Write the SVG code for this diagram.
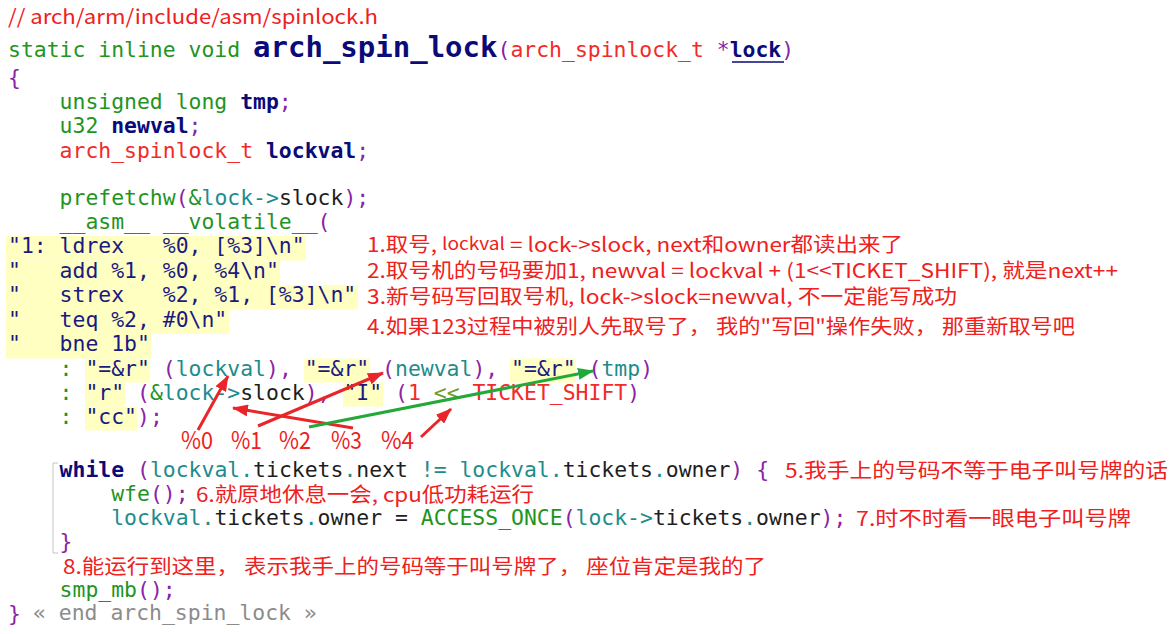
<svg xmlns="http://www.w3.org/2000/svg" width="1171" height="634" viewBox="0 0 1171 634">
<style>
.c{font-family:"DejaVu Sans Mono","Liberation Mono",monospace;font-size:21.43px;white-space:pre}
.g{fill:#1f9423}
.n{fill:#1a1a82}
.nb{fill:#0a0a78;font-weight:bold}
.p{fill:#8a23a6}
.t{fill:#1d8c8c}
.r{fill:#f22a2a}
.k{fill:#1e1e1e}
.o{fill:#6e9a2a}
.gr{fill:#8c8c8c}
.a{font-family:"Noto Sans CJK SC","Noto Sans",sans-serif;fill:#ef2020;font-size:20px;white-space:pre}
.lb{font-size:24px}
.hl{fill:#ffffc2}
.ar{stroke:#e8262a;stroke-width:3;fill:none}
.ag{stroke:#23a83a;stroke-width:3;fill:none}
</style>
<defs>
<marker id="mr" markerUnits="userSpaceOnUse" markerWidth="16" markerHeight="12" viewBox="0 0 16 12" refX="15" refY="6" orient="auto"><path d="M0,0 L16,6 L0,12 z" fill="#e8262a"/></marker>
<marker id="mg" markerUnits="userSpaceOnUse" markerWidth="16" markerHeight="12" viewBox="0 0 16 12" refX="15" refY="6" orient="auto"><path d="M0,0 L16,6 L0,12 z" fill="#23a83a"/></marker>
</defs>
<rect width="1171" height="634" fill="#ffffff"/>

<g id="highlights">
<rect class="hl" x="6" y="236" width="300" height="24.5"/>
<rect class="hl" x="6" y="260.5" width="274" height="24.5"/>
<rect class="hl" x="6" y="285" width="352" height="24.5"/>
<rect class="hl" x="6" y="309.5" width="223" height="24.5"/>
<rect class="hl" x="6" y="334" width="145" height="24.5"/>
<rect class="hl" x="85" y="358.5" width="65" height="24"/>
<rect class="hl" x="304" y="358.5" width="66" height="24"/>
<rect class="hl" x="510" y="358.5" width="66" height="24"/>
<rect class="hl" x="85" y="382.5" width="40" height="24"/>
<rect class="hl" x="343" y="382.5" width="40" height="24"/>
<rect class="hl" x="85" y="406.5" width="52" height="24"/>
</g>

<g id="code">
<text class="a" x="8" y="24" font-size="21" textLength="370" lengthAdjust="spacingAndGlyphs">// arch/arm/include/asm/spinlock.h</text>
<text class="c" x="8" y="57"><tspan class="g">static inline void </tspan><tspan class="nb" font-size="29">arch_spin_lock</tspan><tspan class="p">(</tspan><tspan class="r">arch_spinlock_t </tspan><tspan class="p">*</tspan><tspan class="nb">lock</tspan><tspan class="p">)</tspan></text>
<line x1="732" y1="62" x2="784" y2="62" stroke="#0a0a78" stroke-width="1.5"/>
<text class="c p" x="8" y="85">{</text>
<text class="c" x="59.6" y="109"><tspan class="g">unsigned long </tspan><tspan class="nb">tmp</tspan><tspan class="p">;</tspan></text>
<text class="c" x="59.6" y="133"><tspan class="g">u32 </tspan><tspan class="nb">newval</tspan><tspan class="p">;</tspan></text>
<text class="c" x="59.6" y="157.5"><tspan class="r">arch_spinlock_t </tspan><tspan class="nb">lockval</tspan><tspan class="p">;</tspan></text>
<text class="c" x="59.6" y="205"><tspan class="g">prefetchw</tspan><tspan class="p">(</tspan><tspan class="g">&amp;</tspan><tspan class="t">lock-&gt;</tspan><tspan class="k">slock</tspan><tspan class="p">);</tspan></text>
<text class="c" x="59.6" y="229"><tspan class="g">__asm__ __volatile__</tspan><tspan class="p">(</tspan></text>
<text class="c n" x="8" y="253">"1: ldrex   %0, [%3]\n"</text>
<text class="c n" x="8" y="277.5">"   add %1, %0, %4\n"</text>
<text class="c n" x="8" y="302">"   strex   %2, %1, [%3]\n"</text>
<text class="c n" x="8" y="326.5">"   teq %2, #0\n"</text>
<text class="c n" x="8" y="351">"   bne 1b"</text>
<text class="c" x="59.6" y="375.5"><tspan class="g">:</tspan> <tspan class="n">"=&amp;r"</tspan> <tspan class="p">(</tspan><tspan class="t">lockval</tspan><tspan class="p">),</tspan> <tspan class="n">"=&amp;r"</tspan> <tspan class="p">(</tspan><tspan class="t">newval</tspan><tspan class="p">),</tspan> <tspan class="n">"=&amp;r"</tspan> <tspan class="p">(</tspan><tspan class="t">tmp</tspan><tspan class="p">)</tspan></text>
<text class="c" x="59.6" y="400"><tspan class="g">:</tspan> <tspan class="n">"r"</tspan> <tspan class="p">(</tspan><tspan class="g">&amp;</tspan><tspan class="t">lock-&gt;</tspan><tspan class="k">slock</tspan><tspan class="p">),</tspan> <tspan class="n">"I"</tspan> <tspan class="p">(</tspan><tspan class="r">1 </tspan><tspan class="o">&lt;&lt;</tspan><tspan class="r"> TICKET_SHIFT</tspan><tspan class="p">)</tspan></text>
<text class="c" x="59.6" y="424"><tspan class="g">:</tspan> <tspan class="n">"cc"</tspan><tspan class="p">);</tspan></text>
<text class="c" x="59.6" y="477"><tspan class="nb">while</tspan> <tspan class="p">(</tspan><tspan class="t">lockval.</tspan><tspan class="k">tickets</tspan><tspan class="t">.</tspan><tspan class="k">next</tspan><tspan class="t"> != lockval.</tspan><tspan class="k">tickets</tspan><tspan class="t">.</tspan><tspan class="k">owner</tspan><tspan class="p">)</tspan> <tspan class="p">{</tspan></text>
<text class="c" x="111.2" y="501"><tspan class="g">wfe</tspan><tspan class="p">();</tspan></text>
<text class="c" x="111.2" y="525"><tspan class="t">lockval.</tspan><tspan class="k">tickets</tspan><tspan class="t">.</tspan><tspan class="k">owner = </tspan><tspan class="g">ACCESS_ONCE</tspan><tspan class="p">(</tspan><tspan class="t">lock-&gt;</tspan><tspan class="k">tickets</tspan><tspan class="t">.</tspan><tspan class="k">owner</tspan><tspan class="p">);</tspan></text>
<text class="c p" x="59.6" y="549">}</text>
<text class="c" x="59.6" y="597"><tspan class="g">smp_mb</tspan><tspan class="p">();</tspan></text>
<text class="c p" x="8" y="621">}</text>
<text class="c gr" x="33" y="620" font-size="17.8">« end arch_spin_lock »</text>
<path d="M58,463 L53,463 L53,553 L58,553" stroke="#c4c4c4" stroke-width="1" fill="none"/>
</g>

<g id="annotations">
<text class="a" x="367" y="252" textLength="536" lengthAdjust="spacingAndGlyphs">1.取号, <tspan font-size="17" dy="-2">lockval</tspan><tspan dy="2"> = lock-&gt;slock, next和owner都读出来了</tspan></text>
<text class="a" x="367" y="278" textLength="751" lengthAdjust="spacingAndGlyphs">2.取号机的号码要加1, newval = lockval + (1&lt;&lt;TICKET_SHIFT), 就是next++</text>
<text class="a" x="367" y="304" textLength="590" lengthAdjust="spacingAndGlyphs">3.新号码写回取号机, lock-&gt;slock=newval, 不一定能写成功</text>
<text class="a" x="367" y="334" textLength="708" lengthAdjust="spacingAndGlyphs">4.如果123过程中被别人先取号了， 我的"写回"操作失败， 那重新取号吧</text>
<text class="a" x="785" y="478" textLength="383" lengthAdjust="spacingAndGlyphs">5.我手上的号码不等于电子叫号牌的话</text>
<text class="a" x="196" y="502" textLength="338" lengthAdjust="spacingAndGlyphs">6.就原地休息一会, cpu低功耗运行</text>
<text class="a" x="856" y="526" textLength="275" lengthAdjust="spacingAndGlyphs">7.时不时看一眼电子叫号牌</text>
<text class="a" x="63" y="574" textLength="703" lengthAdjust="spacingAndGlyphs">8.能运行到这里， 表示我手上的号码等于叫号牌了， 座位肯定是我的了</text>
<text class="a lb" x="181" y="449" textLength="32" lengthAdjust="spacingAndGlyphs">%0</text>
<text class="a lb" x="231" y="449" textLength="31" lengthAdjust="spacingAndGlyphs">%1</text>
<text class="a lb" x="279" y="449" textLength="32" lengthAdjust="spacingAndGlyphs">%2</text>
<text class="a lb" x="331" y="449" textLength="31" lengthAdjust="spacingAndGlyphs">%3</text>
<text class="a lb" x="381" y="449" textLength="33" lengthAdjust="spacingAndGlyphs">%4</text>
</g>

<g id="connectors">
<line class="ar" x1="198" y1="430" x2="228" y2="376" marker-end="url(#mr)"/>
<line class="ar" x1="258" y1="426" x2="383" y2="373" marker-end="url(#mr)"/>
<line class="ar" x1="353" y1="428" x2="233" y2="408" marker-end="url(#mr)"/>
<line class="ag" x1="309" y1="427" x2="593" y2="371" marker-end="url(#mg)"/>
<line class="ar" x1="421" y1="437" x2="451" y2="409" marker-end="url(#mr)"/>
</g>
</svg>
